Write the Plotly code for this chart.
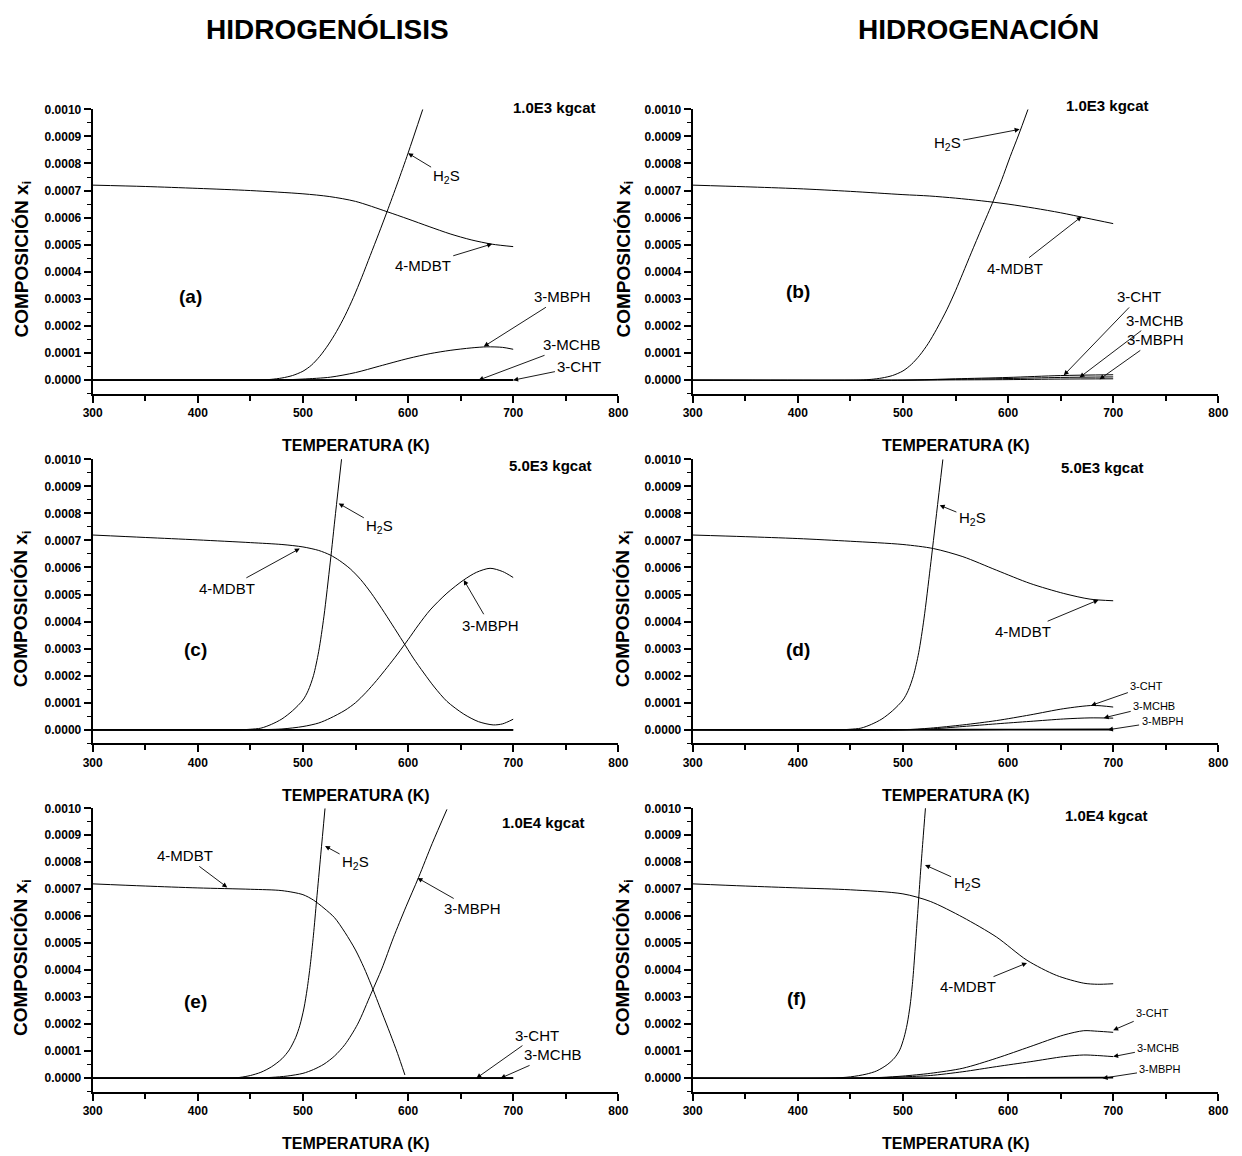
import plotly.graph_objects as go

# ------------------------------------------------------------------
# DATA  (composition values in units of 1e-4, temperature in K)
# ------------------------------------------------------------------
SCALE = 1e-4

# (a) Hidrogenólisis, 1.0E3 kgcat
A_T_MDBT = [300, 350, 400, 450, 500, 525, 550, 580, 600, 620, 640, 660, 680, 700]
A_X_MDBT = [7.20, 7.15, 7.08, 7.00, 6.88, 6.78, 6.60, 6.22, 5.95, 5.67, 5.40, 5.18, 5.02, 4.93]
A_T_H2S = [300, 450, 460, 470, 480, 490, 500, 508, 516, 524, 532, 540, 548, 556, 564, 572, 580, 590, 600, 614]
A_X_H2S = [0, 0, 0.005, 0.03, 0.08, 0.17, 0.33, 0.55, 0.88, 1.30, 1.80, 2.38, 3.05, 3.80, 4.60, 5.40, 6.22, 7.28, 8.38, 10.0]
A_T_MBPH = [300, 450, 480, 500, 526, 550, 573, 600, 621, 640, 660, 675, 690, 700]
A_X_MBPH = [0, 0, 0.01, 0.04, 0.11, 0.28, 0.52, 0.80, 0.98, 1.10, 1.19, 1.23, 1.21, 1.14]
A_T_MCHB = [300, 500, 600, 700]
A_X_MCHB = [0, 0, 0.005, 0.01]
A_T_CHT = [300, 700]
A_X_CHT = [0, 0]

# (b) Hidrogenación, 1.0E3 kgcat
B_T_MDBT = [300, 350, 400, 450, 500, 525, 550, 575, 600, 625, 650, 675, 700]
B_X_MDBT = [7.20, 7.14, 7.07, 6.97, 6.85, 6.80, 6.72, 6.62, 6.50, 6.35, 6.18, 5.98, 5.78]
B_T_H2S = [300, 450, 460, 470, 480, 490, 500, 508, 516, 524, 532, 542, 550, 557, 565, 575, 586, 594, 602, 610, 619]
B_X_H2S = [0, 0, 0.005, 0.03, 0.08, 0.17, 0.34, 0.58, 0.92, 1.35, 1.88, 2.62, 3.30, 3.95, 4.70, 5.62, 6.62, 7.40, 8.25, 9.05, 10.0]
B_T_CHT = [300, 500, 550, 600, 650, 700]
B_X_CHT = [0, 0, 0.05, 0.10, 0.17, 0.20]
B_T_MCHB = [300, 500, 550, 600, 650, 700]
B_X_MCHB = [0, 0, 0.03, 0.06, 0.10, 0.12]
B_T_MBPH = [300, 500, 550, 600, 650, 700]
B_X_MBPH = [0, 0, 0.01, 0.02, 0.04, 0.05]

# (c) Hidrogenólisis, 5.0E3 kgcat
C_T_MDBT = [300, 350, 400, 450, 480, 500, 515, 526, 535, 545, 555, 565, 575, 585, 595, 605, 615, 625, 637, 653, 667, 681, 690, 700]
C_X_MDBT = [7.20, 7.11, 7.02, 6.92, 6.85, 6.76, 6.63, 6.46, 6.25, 5.95, 5.55, 5.05, 4.48, 3.88, 3.27, 2.65, 2.10, 1.58, 1.05, 0.58, 0.30, 0.18, 0.22, 0.39]
C_T_H2S = [300, 440, 450, 460, 470, 480, 490, 500, 505, 510, 515, 520, 526, 531, 537]
C_X_H2S = [0, 0, 0.02, 0.06, 0.20, 0.40, 0.70, 1.10, 1.45, 2.00, 2.90, 4.20, 6.20, 8.00, 10.1]
C_T_MBPH = [300, 450, 480, 500, 515, 526, 540, 550, 560, 570, 580, 590, 600, 610, 621, 637, 653, 665, 678, 690, 700]
C_X_MBPH = [0, 0, 0.03, 0.12, 0.25, 0.43, 0.72, 1.00, 1.38, 1.82, 2.30, 2.80, 3.33, 3.88, 4.43, 5.05, 5.54, 5.82, 5.97, 5.85, 5.63]
C_T_MCHB = [300, 700]
C_X_MCHB = [0, 0]
C_T_CHT = [300, 700]
C_X_CHT = [0, 0]

# (d) Hidrogenación, 5.0E3 kgcat
D_T_MDBT = [300, 350, 400, 450, 500, 529, 557, 589, 621, 653, 678, 700]
D_X_MDBT = [7.20, 7.14, 7.07, 6.97, 6.85, 6.70, 6.40, 5.90, 5.41, 5.04, 4.83, 4.77]
D_T_H2S = [300, 440, 450, 460, 470, 480, 490, 500, 505, 510, 515, 520, 526, 532, 538]
D_X_H2S = [0, 0, 0.02, 0.06, 0.20, 0.40, 0.70, 1.10, 1.45, 2.00, 2.85, 4.10, 6.00, 8.00, 10.0]
D_T_CHT = [300, 500, 526, 557, 589, 621, 653, 681, 700]
D_X_CHT = [0, 0, 0.06, 0.18, 0.34, 0.55, 0.78, 0.90, 0.84]
D_T_MCHB = [300, 500, 526, 557, 589, 621, 653, 678, 700]
D_X_MCHB = [0, 0, 0.03, 0.12, 0.22, 0.31, 0.40, 0.44, 0.43]
D_T_MBPH = [300, 500, 600, 700]
D_X_MBPH = [0, 0, 0.005, 0.01]

# (e) Hidrogenólisis, 1.0E4 kgcat
E_T_MDBT = [300, 350, 400, 450, 480, 500, 510, 520, 530, 540, 550, 558, 565, 575, 583, 590, 597]
E_X_MDBT = [7.20, 7.12, 7.05, 7.00, 6.95, 6.80, 6.60, 6.30, 5.95, 5.40, 4.75, 4.10, 3.45, 2.45, 1.65, 0.92, 0.12]
E_T_H2S = [300, 430, 440, 450, 460, 470, 480, 487, 493, 497, 501, 504, 507, 510, 513, 517, 521]
E_X_H2S = [0, 0, 0.03, 0.10, 0.22, 0.42, 0.72, 1.05, 1.50, 1.95, 2.60, 3.30, 4.20, 5.30, 6.60, 8.30, 10.0]
E_T_MBPH = [300, 440, 470, 485, 500, 510, 520, 530, 540, 552, 565, 575, 586, 598, 610, 623, 637]
E_X_MBPH = [0, 0, 0.03, 0.08, 0.18, 0.32, 0.52, 0.82, 1.25, 2.00, 3.15, 4.05, 5.20, 6.35, 7.44, 8.70, 9.96]
E_T_CHT = [300, 700]
E_X_CHT = [0, 0]
E_T_MCHB = [300, 700]
E_X_MCHB = [0, 0]

# (f) Hidrogenación, 1.0E4 kgcat
F_T_MDBT = [300, 350, 400, 450, 500, 526, 557, 589, 618, 646, 672, 685, 700]
F_X_MDBT = [7.20, 7.12, 7.05, 6.98, 6.83, 6.55, 5.96, 5.23, 4.37, 3.81, 3.52, 3.48, 3.50]
F_T_H2S = [300, 430, 450, 465, 475, 485, 492, 497, 501, 504, 507, 509.5, 512, 514, 516.5, 519, 521.5]
F_X_H2S = [0, 0, 0.05, 0.15, 0.27, 0.50, 0.75, 1.05, 1.50, 2.00, 2.75, 3.70, 5.00, 6.10, 7.50, 8.80, 10.05]
F_T_CHT = [300, 450, 480, 500, 526, 557, 589, 621, 653, 672, 685, 700]
F_X_CHT = [0, 0, 0.03, 0.08, 0.18, 0.37, 0.74, 1.17, 1.60, 1.76, 1.74, 1.70]
F_T_MCHB = [300, 450, 480, 500, 526, 557, 589, 621, 653, 672, 685, 700]
F_X_MCHB = [0, 0, 0.02, 0.05, 0.10, 0.24, 0.43, 0.61, 0.80, 0.86, 0.84, 0.80]
F_T_MBPH = [300, 500, 600, 700]
F_X_MBPH = [0, 0, 0.01, 0.02]

# Labels
COLUMN_TITLES = ["HIDROGENÓLISIS", "HIDROGENACIÓN"]
PANEL_LETTERS = ["(a)", "(b)", "(c)", "(d)", "(e)", "(f)"]
CATALYST = ["1.0E3 kgcat", "1.0E3 kgcat", "5.0E3 kgcat", "5.0E3 kgcat", "1.0E4 kgcat", "1.0E4 kgcat"]
X_TITLE = "TEMPERATURA (K)"
Y_TITLE = "COMPOSICIÓN x<sub>i</sub>"
H2S = "H<sub>2</sub>S"

PANELS = [
    [(A_T_MDBT, A_X_MDBT), (A_T_H2S, A_X_H2S), (A_T_MBPH, A_X_MBPH), (A_T_MCHB, A_X_MCHB), (A_T_CHT, A_X_CHT)],
    [(B_T_MDBT, B_X_MDBT), (B_T_H2S, B_X_H2S), (B_T_CHT, B_X_CHT), (B_T_MCHB, B_X_MCHB), (B_T_MBPH, B_X_MBPH)],
    [(C_T_MDBT, C_X_MDBT), (C_T_H2S, C_X_H2S), (C_T_MBPH, C_X_MBPH), (C_T_MCHB, C_X_MCHB), (C_T_CHT, C_X_CHT)],
    [(D_T_MDBT, D_X_MDBT), (D_T_H2S, D_X_H2S), (D_T_CHT, D_X_CHT), (D_T_MCHB, D_X_MCHB), (D_T_MBPH, D_X_MBPH)],
    [(E_T_MDBT, E_X_MDBT), (E_T_H2S, E_X_H2S), (E_T_MBPH, E_X_MBPH), (E_T_CHT, E_X_CHT), (E_T_MCHB, E_X_MCHB)],
    [(F_T_MDBT, F_X_MDBT), (F_T_H2S, F_X_H2S), (F_T_CHT, F_X_CHT), (F_T_MCHB, F_X_MCHB), (F_T_MBPH, F_X_MBPH)],
]

# ------------------------------------------------------------------
# LAYOUT / STYLE
# ------------------------------------------------------------------
W, H = 1242, 1156
FONT = "Liberation Sans, Arial, sans-serif"
XDOM = [[92.7 / W, 618.3 / W], [692.7 / W, 1218.3 / W]]
YPIX = [(109.3, 393.7), (459.3, 743.3), (808.3, 1091.7)]
YDOM = [[1 - b / H, 1 - t / H] for t, b in YPIX]

# callouts: (panel, text, head_T, head_x, text_T, text_x, font size)
CALLOUTS = [
    (0, H2S, 600, 8.38, 637, 7.51, 15),
    (0, "4-MDBT", 680, 5.03, 614, 4.25, 15),
    (0, "3-MBPH", 672, 1.24, 747, 3.08, 15),
    (0, "3-MCHB", 667, 0.0, 756, 1.30, 15),
    (0, "3-CHT", 700, 0.0, 763, 0.50, 15),
    (1, H2S, 611, 9.26, 542, 8.75, 15),
    (1, "4-MDBT", 670, 6.04, 607, 4.13, 15),
    (1, "3-CHT", 653, 0.18, 725, 3.08, 15),
    (1, "3-MCHB", 668, 0.10, 740, 2.22, 15),
    (1, "3-MBPH", 687, 0.03, 740, 1.49, 15),
    (2, "4-MDBT", 497, 6.70, 428, 5.23, 15),
    (2, H2S, 534, 8.37, 573, 7.50, 15),
    (2, "3-MBPH", 653, 5.54, 678, 3.87, 15),
    (3, H2S, 535, 8.30, 566, 7.81, 15),
    (3, "4-MDBT", 686, 4.80, 614, 3.63, 15),
    (3, "3-CHT", 679, 0.90, 732, 1.62, 11),
    (3, "3-MCHB", 691, 0.44, 739, 0.89, 11),
    (3, "3-MBPH", 695, 0.0, 747, 0.31, 11),
    (4, "4-MDBT", 428, 7.07, 388, 8.24, 15),
    (4, H2S, 521, 8.6, 550, 7.99, 15),
    (4, "3-MBPH", 609, 7.42, 661, 6.27, 15),
    (4, "3-CHT", 665, 0.0, 723, 1.60, 15),
    (4, "3-MCHB", 688, 0.0, 738, 0.86, 15),
    (5, H2S, 521, 7.9, 561, 7.2, 15),
    (5, "4-MDBT", 618, 4.27, 562, 3.38, 15),
    (5, "3-CHT", 700, 1.78, 737, 2.40, 11),
    (5, "3-MCHB", 700, 0.80, 743, 1.13, 11),
    (5, "3-MBPH", 690, 0.0, 745, 0.33, 11),
]
LETTER_POS = [(393, 3.07), (400, 3.27), (398, 2.95), (400, 2.95), (398, 2.83), (399, 2.96)]
CAT_PIX = [(554, 107), (1107, 105), (550, 465), (1102, 467), (543, 822), (1106, 815)]

fig = go.Figure()
annotations = []


def center_text(x, y, text, size, **kw):
    d = dict(x=x, y=y, text=text, showarrow=False, xanchor="center", yanchor="middle",
             font=dict(family=FONT, size=size, color="black"))
    d.update(kw)
    return d


for i, series in enumerate(PANELS):
    row, col = divmod(i, 2)
    n = i + 1
    xa = "x" if n == 1 else f"x{n}"
    ya = "y" if n == 1 else f"y{n}"
    for T, X in series:
        near_zero = max(X) < 0.05
        fig.add_trace(go.Scatter(
            x=T, y=[v * SCALE for v in X], mode="lines",
            line=dict(color="black", width=1.8 if near_zero else 1, shape="spline", smoothing=0.8),
            xaxis=xa, yaxis=ya, showlegend=False, hoverinfo="skip"))

    xkey = "xaxis" if n == 1 else f"xaxis{n}"
    ykey = "yaxis" if n == 1 else f"yaxis{n}"
    fig.layout[xkey] = dict(
        domain=XDOM[col], anchor=ya, range=[300, 800], tickvals=[300, 400, 500, 600, 700, 800],
        showline=True, linewidth=2, linecolor="black", ticks="outside", ticklen=7, tickwidth=1.6,
        tickcolor="black", showgrid=False, zeroline=False, automargin=False,
        tickfont=dict(family=FONT, size=12, color="black", weight="bold"),
        minor=dict(ticks="outside", ticklen=5, tickwidth=1.6, tickcolor="black", dtick=50, tick0=300, showgrid=False))
    fig.layout[ykey] = dict(
        domain=YDOM[row], anchor=xa, range=[-0.5 * SCALE, 10 * SCALE],
        tickvals=[k * SCALE for k in range(11)], tickformat=".4f",
        showline=True, linewidth=2, linecolor="black", ticks="outside", ticklen=7, tickwidth=1.6,
        tickcolor="black", showgrid=False, zeroline=False, automargin=False,
        tickfont=dict(family=FONT, size=12, color="black", weight="bold"),
        minor=dict(ticks="outside", ticklen=4, tickwidth=1.4, tickcolor="black", dtick=0.5 * SCALE, tick0=0, showgrid=False))

    # panel letter
    lx, lv = LETTER_POS[i]
    annotations.append(center_text(lx, lv * SCALE, f"<b>{PANEL_LETTERS[i]}</b>", 19, xref=xa, yref=ya))
    # catalyst mass
    cpx, cpy = CAT_PIX[i]
    annotations.append(center_text(cpx / W, 1 - cpy / H, f"<b>{CATALYST[i]}</b>", 15, xref="paper", yref="paper"))

    # axis titles
    xc = (XDOM[col][0] + XDOM[col][1]) / 2
    ybot = YPIX[row][1]
    annotations.append(center_text(xc, 1 - (ybot + 52) / H, f"<b>{X_TITLE}</b>", 16, xref="paper", yref="paper"))
    ycen = (YPIX[row][0] + YPIX[row][1]) / 2 + 8
    annotations.append(center_text((22 if col == 0 else 624) / W, 1 - ycen / H, f"<b>{Y_TITLE}</b>", 19,
                                   xref="paper", yref="paper", textangle=-90))

for p, txt, hx, hv, tx, tv, fs in CALLOUTS:
    n = p + 1
    xa = "x" if n == 1 else f"x{n}"
    ya = "y" if n == 1 else f"y{n}"
    annotations.append(dict(x=hx, y=hv * SCALE, xref=xa, yref=ya, ax=tx, ay=tv * SCALE, axref=xa, ayref=ya,
                            text=txt, showarrow=True, arrowhead=2, arrowsize=1.1, arrowwidth=0.9,
                            arrowcolor="black", standoff=0, startstandoff=1,
                            font=dict(family=FONT, size=fs, color="black")))

# column titles
for col, t in enumerate(COLUMN_TITLES):
    annotations.append(center_text((327 if col == 0 else 978) / W, 1 - 30 / H, f"<b>{t}</b>", 28,
                                   xref="paper", yref="paper"))

fig.update_layout(width=W, height=H, autosize=False, margin=dict(l=0, r=0, t=0, b=0, pad=0),
                  paper_bgcolor="white", plot_bgcolor="white", showlegend=False,
                  annotations=annotations)

fig.write_html("out.html", config={"displayModeBar": False, "responsive": False},
               post_script="document.body.style.margin='0';")
